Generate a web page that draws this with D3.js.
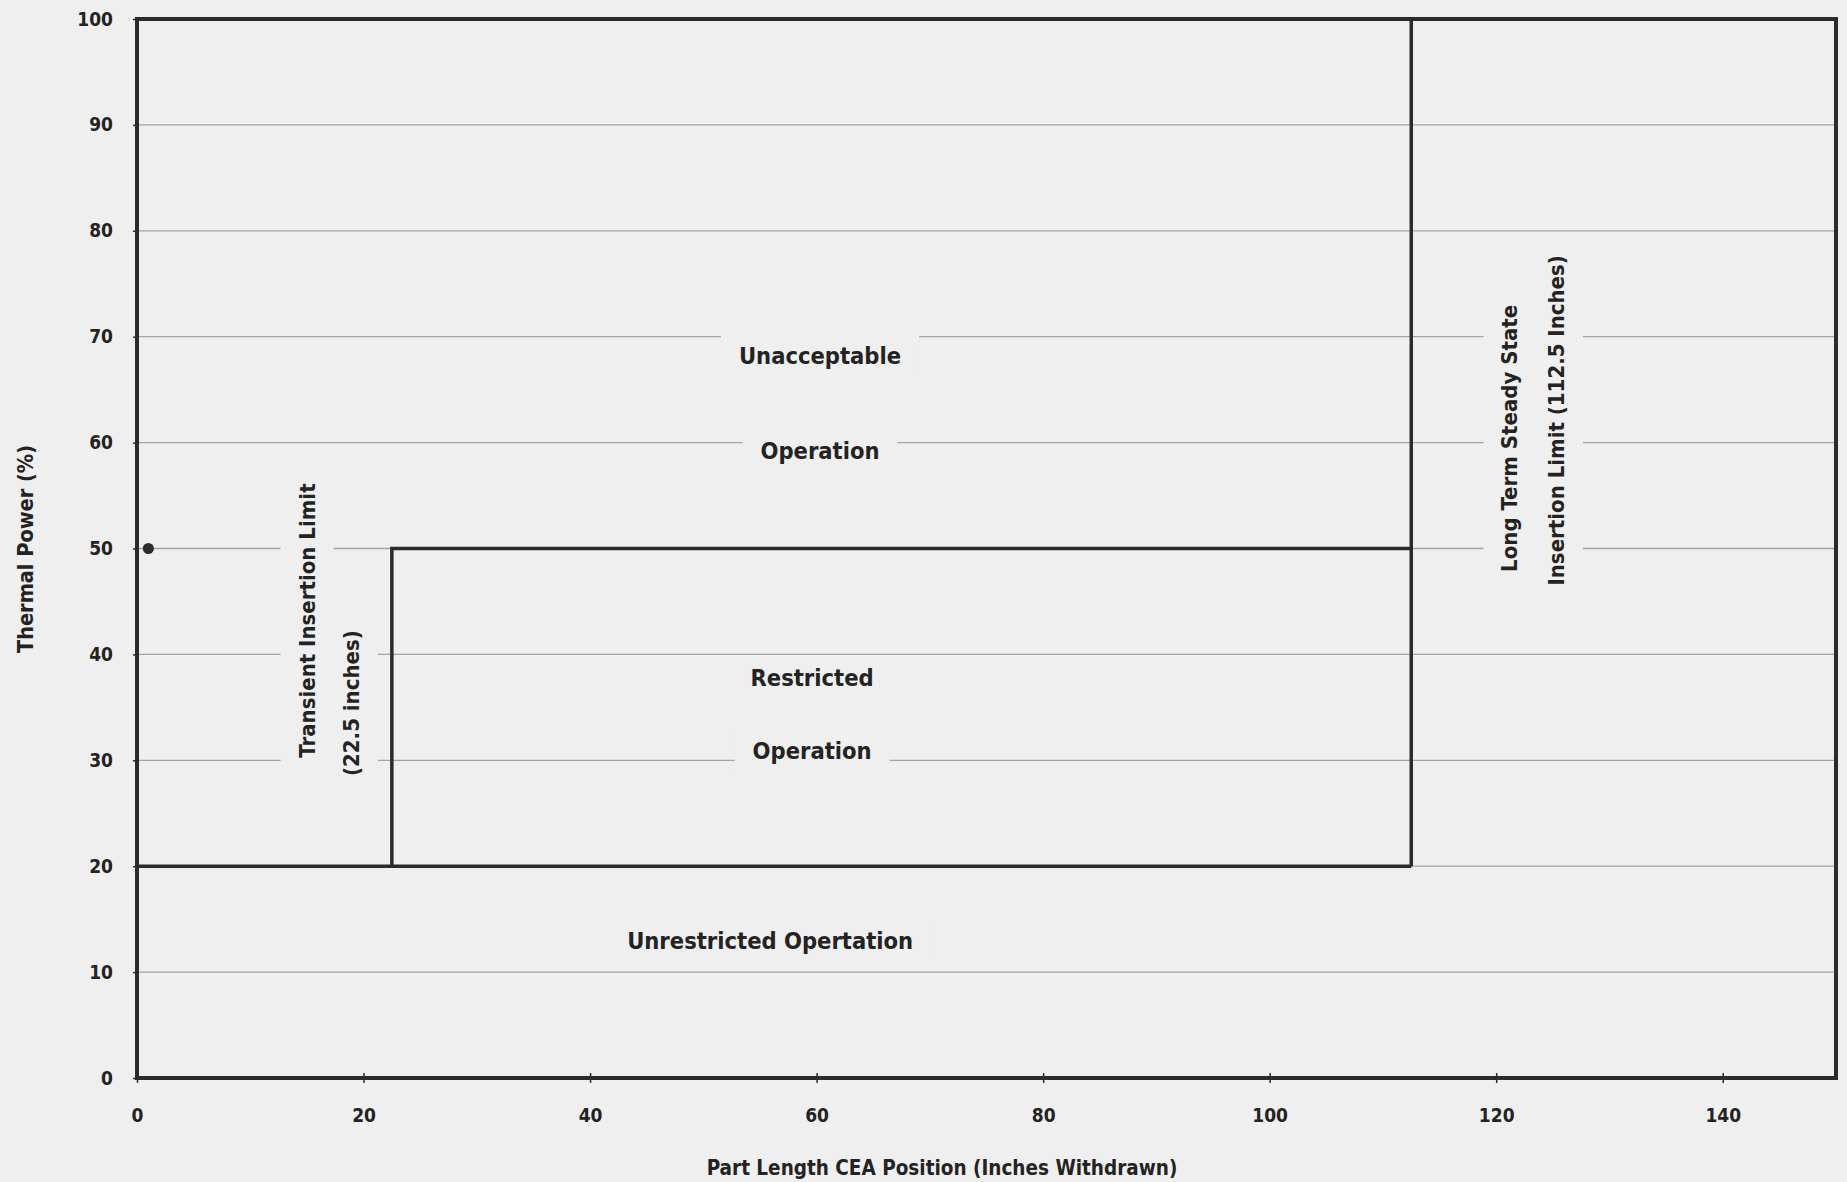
<!DOCTYPE html>
<html>
<head>
<meta charset="utf-8">
<script src="https://cdn.jsdelivr.net/npm/d3@7"></script>
<style>
  html, body { margin: 0; padding: 0; background: #efefef; }
  svg { display: block; }
  text { font-family: "DejaVu Sans Condensed", "DejaVu Sans", sans-serif; font-stretch: condensed; font-weight: bold; fill: #232323; }
</style>
</head>
<body>
<svg id="chart" width="1847" height="1182"></svg>
<script>
// ---- data ----
const xTicks = [0, 20, 40, 60, 80, 100, 120, 140];
const yTicks = [0, 10, 20, 30, 40, 50, 60, 70, 80, 90, 100];
const xDomain = [0, 150];
const yDomain = [0, 100];

// boundary lines of the operating regions
const lowerLimitX = [0, 112.5];
const lowerLimitY = [20, 20];
const transientX = [22.5, 22.5, 112.5];
const transientY = [20, 50, 50];
const steadyX = [112.5, 112.5];
const steadyY = [20, 100];

// single data point
const pointX = [1];
const pointY = [50];

// region annotations
const labelTexts = ["Unacceptable", "Operation", "Restricted", "Operation", "Unrestricted Opertation",
  "Transient Insertion Limit", "(22.5 inches)", "Long Term Steady State", "Insertion Limit (112.5 Inches)"];
const labelX = [60.3, 60.3, 59.6, 59.6, 55.9, 15.0, 18.9, 121.2, 125.3];
const labelY = [68.2, 59.2, 37.8, 30.9, 13.0, 43.2, 35.4, 60.4, 62.1];
const labelAngle = [0, 0, 0, 0, 0, -90, -90, -90, -90];

const xTitle = "Part Length CEA Position (Inches Withdrawn)";
const yTitle = "Thermal Power (%)";

// ---- drawing ----
const bg = "#efefef";
const svg = d3.select("#chart");
const x = d3.scaleLinear().domain(xDomain).range([137, 1836]);
const y = d3.scaleLinear().domain(yDomain).range([1078, 19]);

// gridlines
svg.append("g").selectAll("line").data(yTicks.filter(d => d > 0 && d < 100)).join("line")
  .attr("x1", x(0)).attr("x2", x(150))
  .attr("y1", d => y(d)).attr("y2", d => y(d))
  .attr("stroke", "#a3a3a3").attr("stroke-width", 1.3);

// masks + labels
const labels = labelTexts.map((t, i) => ({ t, x: labelX[i], y: labelY[i], a: labelAngle[i] }));
const maskLayer = svg.append("g");
const lineLayer = svg.append("g");
const textLayer = svg.append("g");

labels.forEach(d => {
  const g = textLayer.append("g").attr("transform", `translate(${x(d.x)},${y(d.y)}) rotate(${d.a})`);
  const txt = g.append("text").attr("text-anchor", "middle").attr("dy", "0.35em")
    .style("font-size", d.a === 0 ? "23.5px" : "22px").text(d.t);
  const b = txt.node().getBBox();
  const padAlong = d.a === 0 ? 18 : 6;
  const padAcross = d.a === 0 ? 7.5 : 14;
  maskLayer.append("g").attr("transform", `translate(${x(d.x)},${y(d.y)}) rotate(${d.a})`)
    .append("rect")
    .attr("x", b.x - padAlong).attr("y", b.y - padAcross)
    .attr("width", b.width + 2 * padAlong).attr("height", b.height + 2 * padAcross)
    .attr("fill", bg);
});

// boundary lines
const line = d3.line().x(d => x(d[0])).y(d => y(d[1]));
[[lowerLimitX, lowerLimitY], [transientX, transientY], [steadyX, steadyY]].forEach(([xs, ys]) => {
  lineLayer.append("path").datum(xs.map((v, i) => [v, ys[i]]))
    .attr("d", line).attr("fill", "none").attr("stroke", "#2b2b2b").attr("stroke-width", 3.5);
});

// plot border
lineLayer.append("rect").attr("x", x(0)).attr("y", y(100))
  .attr("width", x(150) - x(0)).attr("height", y(0) - y(100))
  .attr("fill", "none").attr("stroke", "#2b2b2b").attr("stroke-width", 4);

// point
lineLayer.selectAll("circle").data(pointX.map((v, i) => [v, pointY[i]])).join("circle")
  .attr("cx", d => x(d[0])).attr("cy", d => y(d[1])).attr("r", 5.5).attr("fill", "#2b2b2b");

// axes
const xAxis = d3.axisBottom(x).tickValues(xTicks).tickSize(5).tickPadding(26);
const gx = svg.append("g").attr("transform", `translate(0,${y(0)})`).call(xAxis);
gx.select(".domain").remove();
gx.selectAll(".tick line").attr("stroke", "#2b2b2b").attr("stroke-width", 1.5).attr("y1", -5);
gx.selectAll(".tick text").style("font-size", "19px").attr("fill", "#232323");

const yAxis = d3.axisLeft(y).tickValues(yTicks).tickSize(4).tickPadding(20);
const gy = svg.append("g").attr("transform", `translate(${x(0)},0)`).call(yAxis);
gy.select(".domain").remove();
gy.selectAll(".tick line").attr("stroke", "#2b2b2b").attr("stroke-width", 1.5);
gy.selectAll(".tick text").style("font-size", "19px").attr("fill", "#232323");

// titles
svg.append("text").attr("x", 942).attr("y", 1168).attr("dy", "0.35em").attr("text-anchor", "middle")
  .style("font-size", "20.5px").text(xTitle);
svg.append("text").attr("transform", "translate(25,549) rotate(-90)").attr("dy", "0.35em")
  .attr("text-anchor", "middle").style("font-size", "21.5px").text(yTitle);
</script>
</body>
</html>
